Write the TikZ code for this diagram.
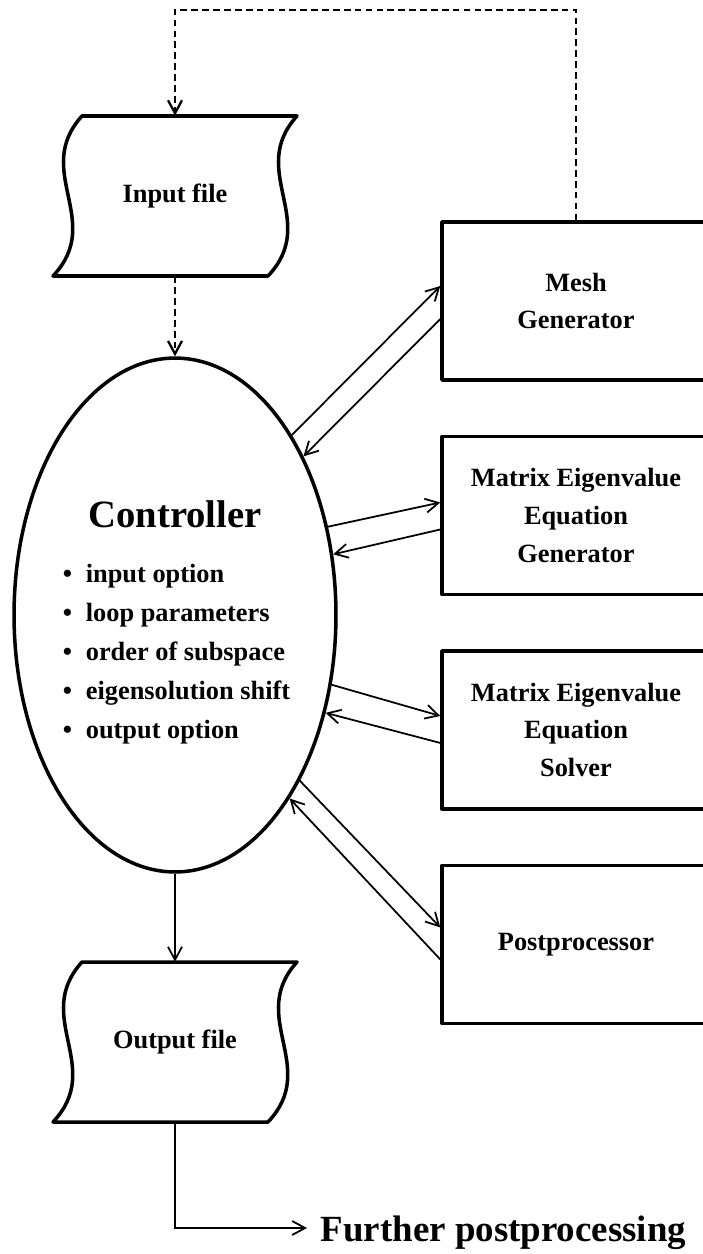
\documentclass[tikz,border=0pt]{standalone}
\usepackage{fontspec}
\setmainfont{Liberation Serif}
\usetikzlibrary{arrows.meta, positioning, shapes.geometric, calc}
\tikzset{
  every picture/.style={font=\bfseries, line width=1pt},
  outline/.style={draw, line width=2pt, line join=round},
  block/.style={outline, minimum width=5.36cm, minimum height=3.16cm, align=center, inner sep=0pt, font=\fontsize{15}{21.5}\selectfont\bfseries},
  filenode/.style={minimum width=4.3cm, minimum height=3.18cm, inner sep=0pt, font=\fontsize{15}{18}\selectfont\bfseries},
  ctrlnode/.style={outline, ellipse, minimum width=6.44cm, minimum height=10.28cm, inner sep=0pt},
  arrow/.style={-{Straight Barb[length=2.6mm, width=2.8mm]}, line width=1pt},
  dasharrow/.style={arrow, dash pattern=on 3.8pt off 2.4pt, line width=1.3pt},
}
\newcommand{\fileoutline}[1]{%
  \draw[outline, shift={(#1.center)}] (-93,-80) -- (122,-80) .. controls (72,-25) and (145,25) .. (93,80) -- (-122,80) .. controls (-70,25) and (-143,-25) .. (-93,-80) -- cycle;}
\newcommand{\itembul}{\makebox[0.46cm][l]{\textbullet}}

\begin{document}
\begin{tikzpicture}[x=0.02cm, y=-0.02cm]
  \useasboundingbox (0,0) rectangle (703,1254);
  \clip (0,0) rectangle (703,1254);
  \node[filenode] (infile) at (175,196) {Input file};
  \fileoutline{infile}
  \node[ctrlnode] (ctrl) at (175,615) {};
  \node[font=\fontsize{22}{26}\selectfont\bfseries] (ctrltitle) at (175,514) {Controller};
  \node[anchor=north west, inner sep=0pt, align=left, font=\fontsize{15}{22.2}\selectfont\bfseries] (ctrllist) at (62,563) {\itembul input option\\ \itembul loop parameters\\ \itembul order of subspace\\ \itembul eigensolution shift\\ \itembul output option};
  \node[block] (mesh) at (576,301) {Mesh\\ Generator};
  \node[block, below=1.06cm of mesh] (eiggen) {Matrix Eigenvalue\\ Equation\\ Generator};
  \node[block, below=1.06cm of eiggen] (eigsolve) {Matrix Eigenvalue\\ Equation\\ Solver};
  \node[block, below=1.06cm of eigsolve] (post) {Postprocessor};
  \node[filenode] (outfile) at (175,1042) {Output file};
  \fileoutline{outfile}
  \node[anchor=west, inner sep=0pt, font=\fontsize{21}{25}\selectfont\bfseries] (further) at (320,1233) {Further postprocessing};
  \coordinate (looptop) at (175,10);
  \draw[dasharrow] (mesh.north) |- (looptop) -- (infile.north);
  \draw[dasharrow] (infile.south) -- (ctrl.north);
  \draw[arrow] (ctrl.57) -- ($(mesh.west)+(0,-15)$);
  \draw[arrow] ($(mesh.west)+(0,18)$) -- (ctrl.51);
  \draw[arrow] (ctrl.30) -- ($(eiggen.west)+(0,-13)$);
  \draw[arrow] ($(eiggen.west)+(0,14)$) -- (ctrl.21);
  \draw[arrow] (ctrl.-24) -- ($(eigsolve.west)+(0,-14)$);
  \draw[arrow] ($(eigsolve.west)+(0,13)$) -- (ctrl.-33);
  \draw[arrow] (ctrl.-53) -- ($(post.west)+(0,-17)$);
  \draw[arrow] ($(post.west)+(0,15)$) -- (ctrl.-58);
  \draw[arrow] (ctrl.south) -- (outfile.north);
  \draw[arrow] (outfile.south) |- ($(further.west)+(-13,-5)$);
\end{tikzpicture}
\end{document}
